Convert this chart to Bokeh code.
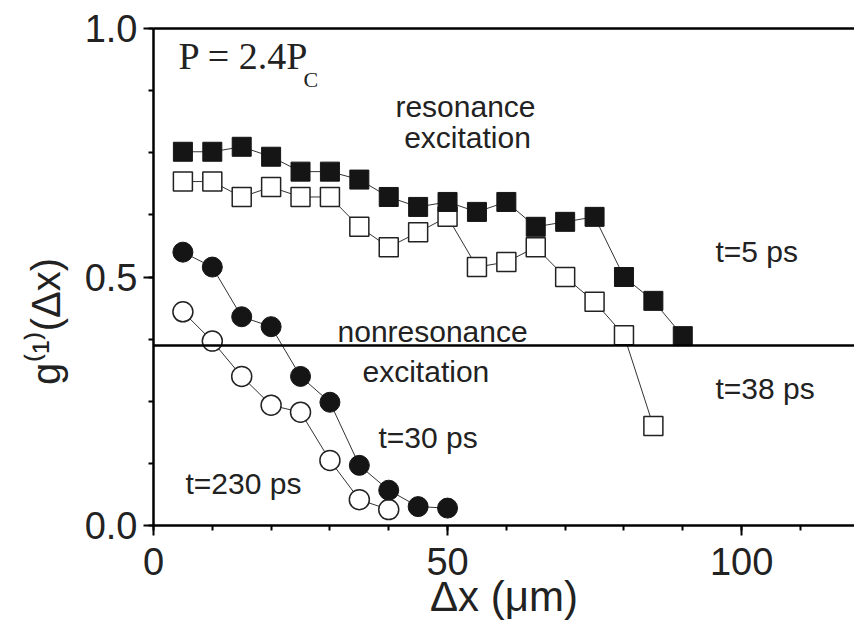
from bokeh.plotting import figure
from bokeh.models import Range1d, Span, Label, LinearAxis, FixedTicker, SingleIntervalTicker
from bokeh.embed import file_html
from bokeh.resources import INLINE

# resonance excitation, t=5 ps (filled squares)
x_5ps = [5, 10, 15, 20, 25, 30, 35, 40, 45, 50, 55, 60, 65, 70, 75, 80, 85, 90]
g_5ps = [0.752, 0.752, 0.762, 0.742, 0.712, 0.712, 0.696, 0.661, 0.641, 0.651,
         0.631, 0.651, 0.601, 0.611, 0.621, 0.500, 0.452, 0.381]
# resonance excitation, t=38 ps (open squares)
x_38ps = [5, 10, 15, 20, 25, 30, 35, 40, 45, 50, 55, 60, 65, 70, 75, 80, 85]
g_38ps = [0.692, 0.692, 0.661, 0.681, 0.661, 0.661, 0.601, 0.560, 0.590, 0.621,
          0.520, 0.530, 0.560, 0.500, 0.450, 0.383, 0.200]
# nonresonance excitation, t=30 ps (filled circles)
x_30ps = [5, 10, 15, 20, 25, 30, 35, 40, 45, 50]
g_30ps = [0.550, 0.520, 0.420, 0.400, 0.300, 0.248, 0.121, 0.071, 0.038, 0.035]
# nonresonance excitation, t=230 ps (open circles)
x_230ps = [5, 10, 15, 20, 25, 30, 35, 40]
g_230ps = [0.430, 0.371, 0.300, 0.242, 0.228, 0.131, 0.052, 0.032]

threshold = 0.362

FONT = "Liberation Sans"
TXT = "#222222"
NBSP = "\u00a0"

p = figure(width=854, height=623, output_backend="svg", toolbar_location=None,
           x_range=Range1d(0, 119.2), y_range=Range1d(0, 1.0),
           min_border_left=153, min_border_right=0, min_border_top=28,
           min_border_bottom=98, x_axis_type=None, y_axis_type=None)
p.grid.visible = False
p.outline_line_color = None
p.background_fill_color = "white"
p.border_fill_color = "white"

xaxis = LinearAxis(ticker=SingleIntervalTicker(interval=50, num_minor_ticks=5))
yaxis = LinearAxis(ticker=SingleIntervalTicker(interval=0.5, num_minor_ticks=4))
for ax in (xaxis, yaxis):
    ax.axis_line_width = 2.5
    ax.axis_line_color = "black"
    ax.major_tick_in = 0
    ax.major_tick_out = 10
    ax.minor_tick_in = 0
    ax.minor_tick_out = 5
    ax.major_tick_line_width = 2
    ax.minor_tick_line_width = 2
    ax.major_label_text_font = FONT
    ax.major_label_text_font_size = "38px"
    ax.major_label_text_color = TXT
    ax.axis_label_text_font = FONT
    ax.axis_label_text_font_style = "normal"
    ax.axis_label_text_color = TXT
xaxis.major_label_standoff = 12
xaxis.axis_label = "Δx (μm)"
xaxis.axis_label_text_font_size = "42px"
xaxis.axis_label_standoff = -5
yaxis.major_label_standoff = 6
yaxis.major_label_overrides = {0: "0.0", 0.5: "0.5", 1: "1.0"}
yaxis.axis_label = "g⁽¹⁾(Δx)" + NBSP * 8
yaxis.axis_label_text_font_size = "40px"
yaxis.axis_label_standoff = 14
p.add_layout(xaxis, "below")
p.add_layout(yaxis, "left")

top = LinearAxis(ticker=FixedTicker(ticks=[]), axis_line_width=2.5,
                 major_label_text_font_size="0px", major_tick_out=0, minor_tick_out=0)
p.add_layout(top, "above")

p.add_layout(Span(location=threshold, dimension="width", line_color="black", line_width=2.5))

line_kw = dict(line_color="#333333", line_width=1)
p.line(x_5ps, g_5ps, **line_kw)
p.line(x_38ps, g_38ps, **line_kw)
p.line(x_30ps, g_30ps, **line_kw)
p.line(x_230ps, g_230ps, **line_kw)

p.scatter(x_38ps, g_38ps, marker="square", size=19, fill_color="white",
          line_color="#222222", line_width=1.5)
p.scatter(x_5ps, g_5ps, marker="square", size=19, fill_color="#151515",
          line_color="#151515", line_width=1)
p.scatter(x_230ps, g_230ps, marker="circle", size=20, fill_color="white",
          line_color="#222222", line_width=1.5)
p.scatter(x_30ps, g_30ps, marker="circle", size=20, fill_color="#151515",
          line_color="#151515", line_width=1)

def lab(x, y, t, size="30px", align="left", font=FONT):
    p.add_layout(Label(x=x, y=y, text=t, text_font=font, text_font_size=size,
                       text_align=align, text_baseline="alphabetic",
                       text_color=TXT))

lab(53.05, 0.844, "resonance", align="center")
lab(53.4, 0.7815, "excitation", align="center")
lab(95.56, 0.552, "t=5 ps")
lab(95.56, 0.2765, "t=38 ps")
lab(31.29, 0.391, "nonresonance")
lab(35.54, 0.309, "excitation")
lab(38.26, 0.178, "t=30 ps")
lab(5.44, 0.0853, "t=230 ps")
lab(4.25, 0.9437, "P = 2.4P", size="38px", font="Liberation Serif")
lab(25.5, 0.897, "C", size="22px", font="Liberation Serif")

open("out.html", "w").write(file_html(p, INLINE))
